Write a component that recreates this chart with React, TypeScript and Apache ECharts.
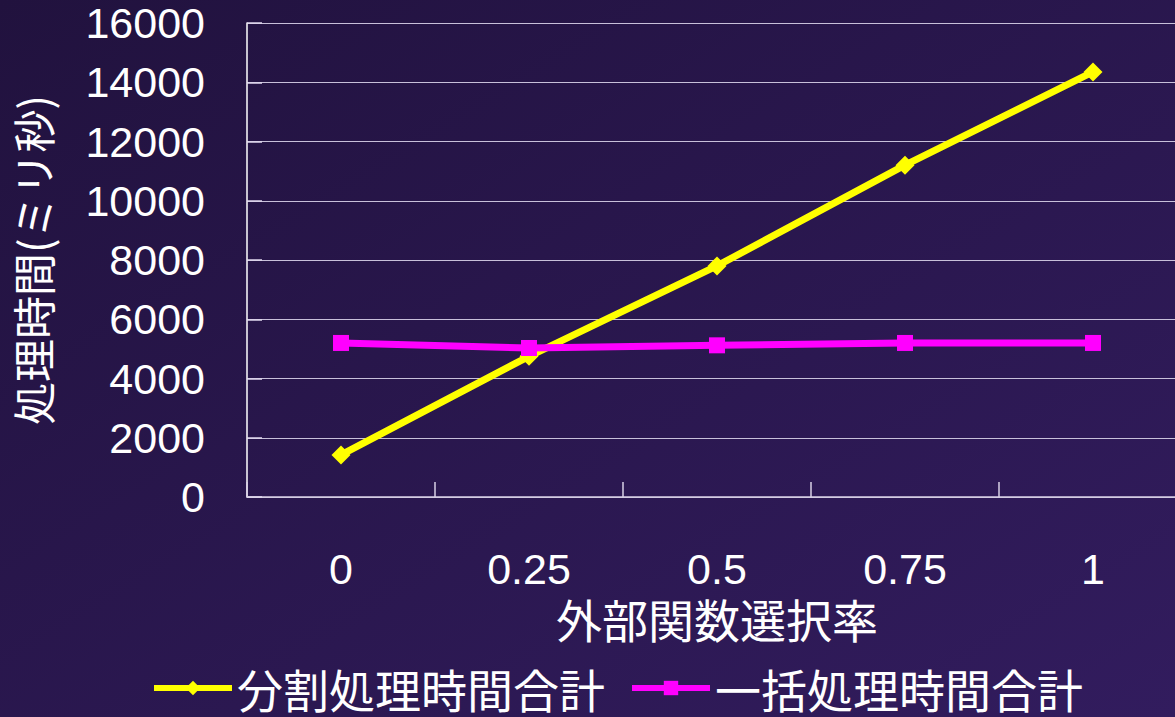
import React, { useEffect, useRef } from "react";
import * as echarts from "echarts";

const categories = ["0", "0.25", "0.5", "0.75", "1"];
const splitTotal = [1420, 4750, 7800, 11200, 14350];
const batchTotal = [5200, 5030, 5120, 5200, 5200];
const seriesNames = ["分割処理時間合計", "一括処理時間合計"];
const yMin = 0;
const yMax = 16000;
const yInterval = 2000;

const FONT = "'Liberation Sans', Arial, 'Noto Sans CJK JP', sans-serif";
const JFONT = "'Noto Sans CJK JP', 'Liberation Sans', sans-serif";

export default function App() {
  const ref = useRef<HTMLDivElement>(null);
  useEffect(() => {
    document.body.style.margin = "0";
    const chart = echarts.init(ref.current!, null, { renderer: "svg" });
    chart.setOption({
      animation: false,
      backgroundColor: new echarts.graphic.LinearGradient(0, 0, 1, 1, [
        { offset: 0, color: "#21123e" },
        { offset: 1, color: "#321c5e" },
      ]),
      grid: {
        left: 247,
        top: 23,
        bottom: 220,
        width: 940,
        containLabel: false,
        outerBoundsMode: "none",
      },
      legend: {
        top: 660,
        left: 146,
        itemWidth: 78,
        itemHeight: 18,
        itemGap: 24,
        lineStyle: { width: 6 },
        textStyle: { color: "#ffffff", fontSize: 46, fontFamily: JFONT, lineHeight: 46 },
        data: seriesNames,
      },
      xAxis: {
        type: "category",
        data: categories,
        boundaryGap: true,
        name: "外部関数選択率",
        nameLocation: "middle",
        nameGap: 93,
        nameTextStyle: { color: "#ffffff", fontSize: 46, fontFamily: JFONT, lineHeight: 46 },
        axisLine: { lineStyle: { color: "#d8d0e6", width: 1.5 } },
        axisTick: { show: true, inside: true, length: 15, lineStyle: { color: "#d8d0e6", width: 1.5 } },
        axisLabel: { color: "#ffffff", fontSize: 43, fontFamily: FONT, margin: 53, lineHeight: 38 },
      },
      yAxis: {
        type: "value",
        min: yMin,
        max: yMax,
        interval: yInterval,
        name: "処理時間(ミリ秒)",
        nameLocation: "middle",
        nameGap: 194,
        nameTextStyle: { color: "#ffffff", fontSize: 43, fontFamily: JFONT },
        axisLine: { show: true, lineStyle: { color: "#ffffff", width: 1.5 } },
        axisTick: { show: true, inside: true, length: 15, lineStyle: { color: "#e0d8ee", width: 1.5 } },
        axisLabel: {
          color: "#ffffff",
          fontSize: 43,
          fontFamily: FONT,
          margin: 42,
          formatter: (v: number) => String(v),
        },
        splitLine: { show: true, lineStyle: { color: "#c8c0da", width: 1.2 } },
      },
      series: [
        {
          name: seriesNames[0],
          type: "line",
          data: splitTotal,
          symbol: "diamond",
          symbolSize: 19,
          itemStyle: { color: "#ffff00" },
          lineStyle: { color: "#ffff00", width: 7 },
        },
        {
          name: seriesNames[1],
          type: "line",
          data: batchTotal,
          symbol: "rect",
          symbolSize: 16,
          itemStyle: { color: "#ff00ff" },
          lineStyle: { color: "#ff00ff", width: 7 },
        },
      ],
    });
    return () => chart.dispose();
  }, []);
  return <div ref={ref} style={{ width: 1175, height: 717 }} />;
}
